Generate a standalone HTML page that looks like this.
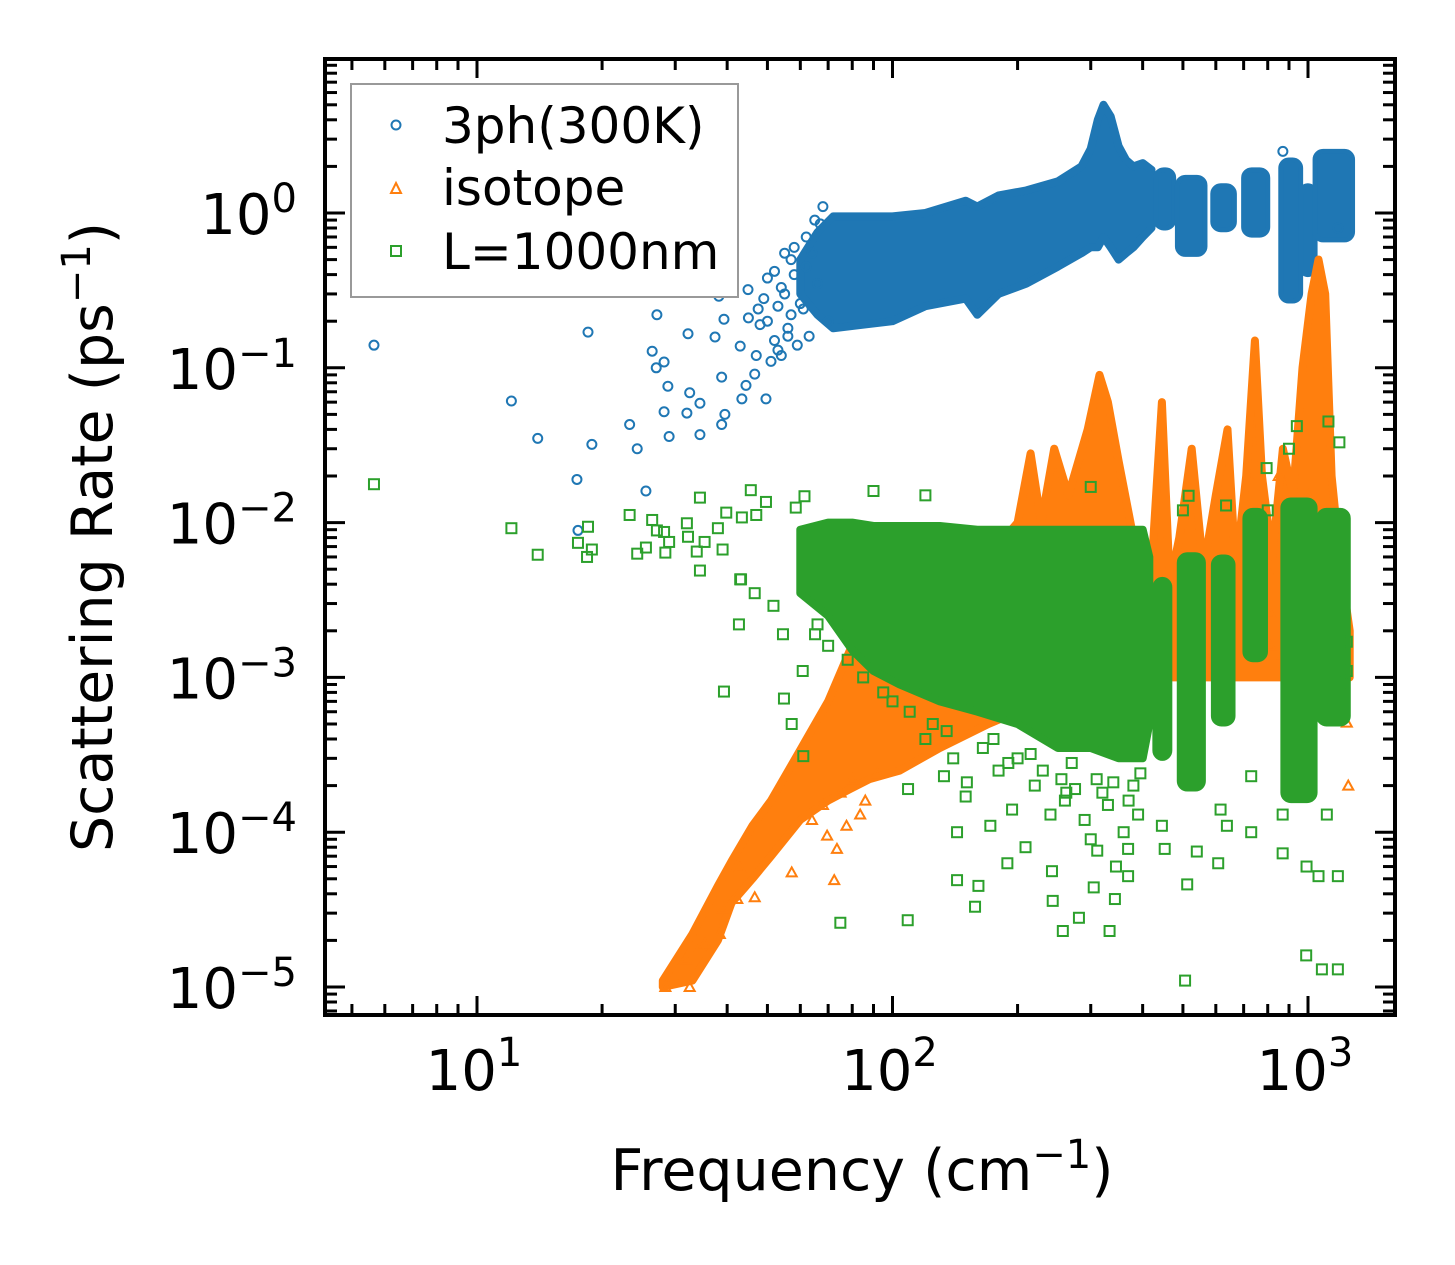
<!DOCTYPE html>
<html><head><meta charset="utf-8">
<style>
html,body{margin:0;padding:0;background:#fff;}
svg{display:block;font-family:"DejaVu Sans","Liberation Sans",sans-serif;}
</style></head>
<body>
<svg id="chart" width="1455" height="1265" viewBox="0 0 1455 1265" xmlns="http://www.w3.org/2000/svg">
  <rect x="0" y="0" width="1455" height="1265" fill="#fff"/>
  <g id="plot"></g>
  <g id="axes"></g>
  <text x="862" y="1190" font-size="57" text-anchor="middle">Frequency (cm<tspan dy="-22" font-size="40">−1</tspan><tspan dy="22">)</tspan></text>
  <text transform="translate(112,537) rotate(-90)" font-size="57" text-anchor="middle">Scattering Rate (ps<tspan dy="-22" font-size="40">−1</tspan><tspan dy="22">)</tspan></text>
  <g>
    <rect x="351" y="84" width="387" height="213" fill="#fff" stroke="#999" stroke-width="2"/>
    <g>
      <circle cx="396" cy="125" r="4.5" fill="none" stroke="#1f77b4" stroke-width="2"/>
      <text x="442" y="143" font-size="50">3ph(300K)</text>
    </g>
    <g>
      <polygon points="396,183 401,193 391,193" fill="none" stroke="#ff7f0e" stroke-width="2"/>
      <text x="442" y="205" font-size="50">isotope</text>
    </g>
    <g>
      <rect x="391" y="246" width="10" height="10" fill="none" stroke="#2ca02c" stroke-width="2"/>
      <text x="442" y="269" font-size="50">L=1000nm</text>
    </g>
  </g>
</svg>
<script>
// ---------- data ----------
const xTickLabels = ["1", "2", "3"];
const yTickLabels = ["0", "−1", "−2", "−3", "−4", "−5"];
const xTickExps = [1, 2, 3];
const yTickExps = [0, -1, -2, -3, -4, -5];

// blue (3ph) dense envelope
const blueFreq = [60, 66, 72, 85, 100, 120, 150, 160, 180, 210, 250, 285, 300, 312, 322, 335, 350, 365, 380, 400, 420];
const blueLo = [0.3, 0.22, 0.18, 0.19, 0.2, 0.25, 0.28, 0.22, 0.3, 0.35, 0.45, 0.55, 0.6, 0.6, 0.7, 0.6, 0.5, 0.55, 0.6, 0.7, 0.8];
const blueHi = [0.5, 0.75, 0.95, 0.95, 0.95, 1.0, 1.2, 1.1, 1.3, 1.4, 1.6, 2.0, 2.6, 4.0, 5.0, 4.2, 2.7, 2.2, 2.0, 2.1, 1.9];
// blue clusters at high frequency
const blueClusterF0 = [430, 485, 590, 700, 860, 960, 1040];
const blueClusterF1 = [475, 565, 665, 800, 960, 1040, 1280];
const blueClusterLo = [0.8, 0.54, 0.78, 0.72, 0.27, 0.4, 0.67];
const blueClusterHi = [1.9, 1.7, 1.5, 1.9, 2.2, 1.5, 2.5];
// blue sparse points
const blueSparseF = [5.65, 12.1, 14.0, 18.5, 18.9, 17.4, 17.5, 23.3, 24.3, 25.5, 26.4, 27.0, 28.2, 27.1, 28.8, 28.2, 29, 32.2, 32.5, 32, 34.4, 34.4, 37.4, 38.8, 38.8, 39.5, 39.3, 43.4, 44.4, 49.6, 38.2, 44.9, 47.5, 43, 46.6, 50, 52, 55, 57, 62, 54,
  50, 53, 56, 58, 51, 54, 57, 59, 48, 52, 55, 60, 63, 65, 68, 66, 70, 58, 62, 45, 47, 49, 53, 56, 61, 64, 67, 1180, 870];
const blueSparseV = [0.14, 0.061, 0.035, 0.17, 0.032, 0.019, 0.0089, 0.043, 0.030, 0.016, 0.128, 0.1, 0.109, 0.22, 0.076, 0.052, 0.036, 0.166, 0.069, 0.051, 0.059, 0.037, 0.158, 0.087, 0.043, 0.05, 0.206, 0.063, 0.077, 0.063, 0.29, 0.32, 0.24, 0.138, 0.091, 0.38, 0.15, 0.3, 0.5, 0.7, 0.12,
  0.2, 0.25, 0.18, 0.4, 0.11, 0.33, 0.22, 0.14, 0.19, 0.42, 0.55, 0.26, 0.16, 0.9, 1.1, 0.35, 0.2, 0.6, 0.45, 0.21, 0.12, 0.28, 0.13, 0.16, 0.24, 0.55, 0.85, 0.8, 2.5];

// orange (isotope) envelope
const orangeFreq = [28, 33, 38, 41, 46, 51, 60, 70, 79, 88, 104, 130, 170, 200, 215, 228, 245, 265, 295, 315, 330, 350, 380, 400, 420, 445, 465, 490, 525, 560, 600, 640, 670, 710, 745, 775, 820, 870, 920, 970, 1020, 1060, 1100, 1140, 1200, 1260];
const orangeLo = [1e-5, 1.1e-5, 2e-5, 3.5e-5, 5e-5, 7e-5, 1.2e-4, 1.6e-4, 1.9e-4, 2.2e-4, 2.5e-4, 3.5e-4, 5e-4, 6e-4, 6e-4, 6e-4, 6e-4, 6e-4, 6e-4, 6e-4, 6e-4, 6e-4, 6e-4, 6e-4, 1e-3, 1e-3, 1e-3, 1e-3, 1e-3, 1e-3, 1e-3, 1e-3, 1e-3, 1e-3, 1e-3, 1e-3, 1e-3, 1e-3, 1e-3, 1e-3, 1e-3, 1e-3, 1e-3, 1e-3, 1e-3, 1e-3];
const orangeHi = [1.1e-5, 2.2e-5, 4.5e-5, 6.5e-5, 1.1e-4, 1.6e-4, 3.4e-4, 7e-4, 1.5e-3, 1.7e-3, 2.5e-3, 4e-3, 6e-3, 1e-2, 2.8e-2, 1e-2, 3e-2, 1.5e-2, 4e-2, 9e-2, 6e-2, 2.5e-2, 8e-3, 4e-3, 5e-3, 6e-2, 4e-3, 8e-3, 3e-2, 5e-3, 1.5e-2, 4e-2, 5e-3, 2e-2, 0.15, 2e-2, 6e-3, 3e-2, 1.5e-2, 0.1, 0.3, 0.5, 0.3, 0.02, 5e-3, 2e-3];
// orange sparse points
const orangeSparseF = [72.4, 77.5, 73.5, 42.9, 46.6, 42.3, 39.1, 38.4, 35.4, 57.2, 69.6, 83.6, 28.4, 32.5, 31.8, 34.4, 1240, 810, 870, 810, 720, 720, 800, 1250, 1230, 850, 1000, 64, 68, 75, 80, 86, 92];
const orangeSparseV = [4.9e-5, 1.1e-4, 7.8e-5, 5.9e-5, 3.8e-5, 3.7e-5, 3.2e-5, 2.2e-5, 1.9e-5, 5.5e-5, 9.5e-5, 1.3e-4, 1.0e-5, 1.0e-5, 1.5e-5, 1.8e-5, 5.1e-4, 1.6e-3, 1.4e-3, 2.6e-3, 0.0197, 0.0115, 0.0049, 2.0e-4, 1.6e-3, 0.02, 0.015, 1.2e-4, 1.5e-4, 1.8e-4, 2.2e-4, 1.6e-4, 2.4e-4];

// green (boundary) envelope
const greenFreq = [60, 70, 80, 90, 104, 130, 160, 200, 250, 300, 350, 400, 415];
const greenLo = [3.5e-3, 2.5e-3, 1.5e-3, 1.1e-3, 9e-4, 7e-4, 6e-4, 5e-4, 3.5e-4, 3.5e-4, 3e-4, 3e-4, 5e-4];
const greenHi = [9e-3, 1.0e-2, 1.0e-2, 9.5e-3, 9.5e-3, 9.5e-3, 9e-3, 9e-3, 9e-3, 9e-3, 9e-3, 9e-3, 6e-3];
// green high-frequency strips
const greenStripF0 = [428, 490, 592, 705, 870, 1060];
const greenStripF1 = [465, 560, 660, 790, 1040, 1250];
const greenStripLo = [3e-4, 1.9e-4, 5e-4, 1.3e-3, 1.6e-4, 5e-4];
const greenStripHi = [4.3e-3, 6.2e-3, 6e-3, 1.2e-2, 1.4e-2, 1.2e-2];
// green sparse points
const greenSparseF = [5.65, 12.1, 14, 18.5, 17.5, 18.4, 18.9, 23.3, 24.3, 25.5, 26.4, 27.1, 28.2, 29, 28.4, 32, 32.2, 33.8, 34.4, 34.4, 35.3, 38, 39, 39.8, 43.4, 43.2, 45.6, 47, 49.6, 58.5, 61.4,
  42.7, 39.3, 54.8, 57.2, 54.5, 51.7, 46.6, 43, 65.1, 60.8, 61, 74.9, 108.8, 143, 161, 158, 189, 257, 281, 333, 243, 242, 343, 143, 172, 194, 209, 305, 369, 369, 311, 109, 133, 151, 262,
  445, 452, 512, 540, 608, 616, 638, 730, 730, 869, 992, 1180, 1060, 869, 1110, 516, 635, 795, 940, 1120, 1190, 900, 1240, 1220, 1240, 506, 1180, 1080, 990,
  120, 140, 180, 220, 260, 290, 330, 360, 380, 150, 240, 270, 200, 310, 390, 345, 300, 90, 120, 300, 500, 800,
  110, 125, 135, 165, 175, 190, 215, 230, 255, 275, 320, 340, 370, 395, 100, 95, 85, 78, 70, 66];
const greenSparseV = [0.0177, 0.0092, 0.0062, 0.0094, 0.0074, 0.006, 0.0067, 0.0112, 0.0063, 0.0069, 0.0104, 0.0089, 0.0087, 0.0075, 0.0064, 0.0099, 0.0081, 0.0065, 0.0145, 0.0049, 0.0075, 0.0092, 0.0067, 0.0116, 0.0108, 0.0043, 0.0162, 0.0112, 0.0136, 0.0125, 0.0148,
  0.0022, 8.1e-4, 7.3e-4, 5e-4, 0.0019, 0.0029, 0.0035, 0.0043, 0.0019, 0.0011, 3.1e-4, 2.6e-5, 2.7e-5, 4.9e-5, 4.5e-5, 3.3e-5, 6.3e-5, 2.3e-5, 2.8e-5, 2.3e-5, 3.6e-5, 5.6e-5, 3.7e-5, 1e-4, 1.1e-4, 1.4e-4, 8e-5, 4.4e-5, 5.2e-5, 7.8e-5, 7.6e-5, 1.9e-4, 2.3e-4, 2.1e-4, 1.8e-4,
  1.1e-4, 7.8e-5, 4.6e-5, 7.5e-5, 6.3e-5, 1.4e-4, 1.1e-4, 2.3e-4, 1e-4, 7.3e-5, 6e-5, 5.2e-5, 5.2e-5, 1.3e-4, 1.3e-4, 0.0149, 0.0129, 0.0225, 0.042, 0.045, 0.033, 0.030, 1.1e-3, 9.3e-4, 1.7e-3, 1.1e-5, 1.3e-5, 1.3e-5, 1.6e-5,
  4e-4, 3e-4, 2.5e-4, 2e-4, 1.6e-4, 1.2e-4, 1.5e-4, 1.0e-4, 2e-4, 1.7e-4, 1.3e-4, 2.8e-4, 3e-4, 2.2e-4, 1.3e-4, 6e-5, 9e-5, 0.016, 0.015, 0.017, 0.012, 0.012,
  6e-4, 5e-4, 4.5e-4, 3.5e-4, 4e-4, 2.8e-4, 3.2e-4, 2.5e-4, 2.2e-4, 1.9e-4, 1.8e-4, 2.1e-4, 1.6e-4, 2.4e-4, 7e-4, 8e-4, 1.0e-3, 1.3e-3, 1.6e-3, 2.2e-3];

// ---------- axes ----------
const PX0 = 325, PX1 = 1395, PY0 = 59, PY1 = 1015;
const X_DEC = 415.5, X_REF = 477; // pixel of 10^1
const Y_DEC = 154.8, Y_REF = 213; // pixel of 10^0
function xs(f) { return X_REF + (Math.log10(f) - 1) * X_DEC; }
function ys(v) { return Y_REF - Math.log10(v) * Y_DEC; }

const NS = "http://www.w3.org/2000/svg";
const plot = document.getElementById('plot');
const axes = document.getElementById('axes');
function mk(tag, attrs, parent) {
  const e = document.createElementNS(NS, tag);
  for (const k in attrs) e.setAttribute(k, attrs[k]);
  parent.appendChild(e);
  return e;
}

const clip = mk('clipPath', {id: 'pc'}, document.getElementById('chart'));
mk('rect', {x: PX0, y: PY0, width: PX1 - PX0, height: PY1 - PY0}, clip);
plot.setAttribute('clip-path', 'url(#pc)');

function band(fArr, lo, hi, color, name) {
  const pts = [];
  for (let i = 0; i < fArr.length; i++) pts.push(xs(fArr[i]).toFixed(1) + ',' + ys(hi[i]).toFixed(1));
  for (let i = fArr.length - 1; i >= 0; i--) pts.push(xs(fArr[i]).toFixed(1) + ',' + ys(lo[i]).toFixed(1));
  const p = mk('polygon', {points: pts.join(' '), fill: color, stroke: color, 'stroke-width': 8, 'stroke-linejoin': 'round'}, plot);
  
  
}
function boxes(f0, f1, lo, hi, color, name) {
  for (let i = 0; i < f0.length; i++) {
    const x0 = xs(f0[i]), x1 = xs(f1[i]), y0 = ys(hi[i]), y1 = ys(lo[i]);
    const r = mk('rect', {x: x0, y: y0, width: x1 - x0, height: y1 - y0, fill: color, stroke: color, 'stroke-width': 5, 'stroke-linejoin': 'round', rx: 8}, plot);
    
    
  }
}
function circles(fArr, vArr, color, name) {
  for (let i = 0; i < fArr.length; i++) {
    const c = mk('circle', {cx: xs(fArr[i]), cy: ys(vArr[i]), r: 4.5, fill: 'none', stroke: color, 'stroke-width': 2}, plot);
    
    
  }
}
function tris(fArr, vArr, color, name) {
  for (let i = 0; i < fArr.length; i++) {
    const x = xs(fArr[i]), y = ys(vArr[i]);
    const t = mk('polygon', {points: `${x},${y - 5} ${x + 5},${y + 4} ${x - 5},${y + 4}`, fill: 'none', stroke: color, 'stroke-width': 2}, plot);
    
    
  }
}
function squares(fArr, vArr, color, name) {
  for (let i = 0; i < fArr.length; i++) {
    const s = mk('rect', {x: xs(fArr[i]) - 5, y: ys(vArr[i]) - 5, width: 10, height: 10, fill: 'none', stroke: color, 'stroke-width': 2}, plot);
    
    
  }
}

const BLUE = '#1f77b4', ORANGE = '#ff7f0e', GREEN = '#2ca02c';
band(blueFreq, blueLo, blueHi, BLUE, '3ph-dense-band');
boxes(blueClusterF0, blueClusterF1, blueClusterLo, blueClusterHi, BLUE, '3ph-cluster');
circles(blueSparseF, blueSparseV, BLUE, '3ph-point');
band(orangeFreq, orangeLo, orangeHi, ORANGE, 'isotope-dense-band');
tris(orangeSparseF, orangeSparseV, ORANGE, 'isotope-point');
band(greenFreq, greenLo, greenHi, GREEN, 'boundary-dense-band');
boxes(greenStripF0, greenStripF1, greenStripLo, greenStripHi, GREEN, 'boundary-strip');
squares(greenSparseF, greenSparseV, GREEN, 'boundary-point');

// frame
const frame = mk('rect', {x: PX0, y: PY0, width: PX1 - PX0, height: PY1 - PY0, fill: 'none', stroke: '#000', 'stroke-width': 4}, axes);



// x ticks
for (let d = 0; d <= 3; d++) {
  for (let m = 1; m <= 9; m++) {
    const f = m * Math.pow(10, d);
    const x = xs(f);
    if (x < PX0 + 1 || x > PX1 - 1) continue;
    const L = m === 1 ? 19 : 11;
    const t1 = mk('line', {x1: x, x2: x, y1: PY1, y2: PY1 - L, stroke: '#000', 'stroke-width': 3}, axes);
    
    
    const t2 = mk('line', {x1: x, x2: x, y1: PY0, y2: PY0 + L, stroke: '#000', 'stroke-width': 3}, axes);
    
    
  }
}
xTickExps.forEach((e, i) => {
  const x = xs(Math.pow(10, e));
  const t = mk('text', {x: x - 3, y: 1090, 'font-size': 56, 'text-anchor': 'middle'}, axes);
  
  
  t.appendChild(document.createTextNode('10'));
  const s = mk('tspan', {dy: -24, 'font-size': 40}, t);
  s.textContent = xTickLabels[i];
});

// y ticks
for (let d = -6; d <= 0; d++) {
  for (let m = 1; m <= 9; m++) {
    const v = m * Math.pow(10, d);
    const y = ys(v);
    if (y < PY0 + 1 || y > PY1 - 1) continue;
    const L = m === 1 ? 20 : 12;
    const t1 = mk('line', {x1: PX0, x2: PX0 + L, y1: y, y2: y, stroke: '#000', 'stroke-width': 3}, axes);
    
    
    const t2 = mk('line', {x1: PX1, x2: PX1 - L, y1: y, y2: y, stroke: '#000', 'stroke-width': 3}, axes);
    
    
  }
}
yTickExps.forEach((e, i) => {
  const y = ys(Math.pow(10, e));
  const t = mk('text', {x: 297, y: y + 21, 'font-size': 56, 'text-anchor': 'end'}, axes);
  
  
  t.appendChild(document.createTextNode('10'));
  const s = mk('tspan', {dy: -22, 'font-size': 40}, t);
  s.textContent = yTickLabels[i];
});
</script>
</body></html>
